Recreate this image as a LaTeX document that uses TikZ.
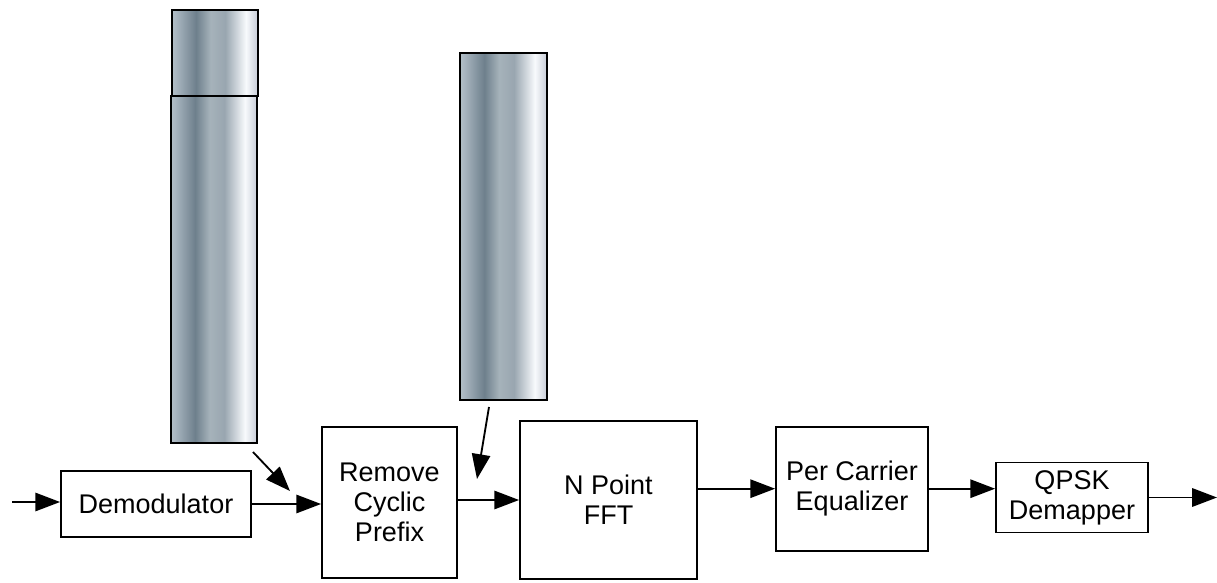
\documentclass[tikz,border=0pt]{standalone}
\usepackage{fontspec}
\setmainfont{Liberation Sans}
\usetikzlibrary{arrows.meta}

% metallic look of the buffer bars (path box spans 25bp..75bp)
\pgfdeclarehorizontalshading{steelbar}{100bp}{rgb(0bp)=(0.70,0.75,0.78); rgb(25bp)=(0.70,0.75,0.78); rgb(27.5bp)=(0.66,0.71,0.75); rgb(39bp)=(0.43,0.50,0.55); rgb(47.5bp)=(0.65,0.70,0.73); rgb(56bp)=(0.60,0.65,0.69); rgb(68bp)=(0.97,0.98,0.99); rgb(75bp)=(0.78,0.80,0.84); rgb(100bp)=(0.78,0.80,0.84)}

\tikzset{
    block/.style={draw,line width=1.3pt,align=center,inner sep=0pt,
        font=\fontsize{19.2}{21.3}\selectfont},
    bar/.style={draw,line width=1.5pt,shading=steelbar},
    flow/.style={line width=1.3pt,-{Triangle[length=0.62cm,width=0.46cm]}}
}

\begin{document}
\begin{tikzpicture}[x=0.025cm,y=-0.025cm]
    \useasboundingbox (0,0) rectangle (1217,583);

    % buffers
    \draw[bar] (172,10) rectangle (258,96);
    \draw[bar] (171,96) rectangle (257,443);
    \draw[bar] (460,53) rectangle (547,400);

    % receiver chain
    \node[block,minimum width=190*0.025cm,minimum height=66*0.025cm] (demod) at (156,504) {Demodulator};
    \node[block,minimum width=135*0.025cm,minimum height=151*0.025cm] (remcp) at (389.5,502.5) {Remove\\Cyclic\\Prefix};
    \node[block,minimum width=177*0.025cm,minimum height=158*0.025cm] (fft) at (608.5,500) {N Point\\FFT};
    \node[block,minimum width=152*0.025cm,minimum height=124*0.025cm] (eq) at (852,488.7) {Per Carrier\\Equalizer};
    \node[block,minimum width=152*0.025cm,minimum height=70*0.025cm] (qpsk) at (1072,497.5) {QPSK\\Demapper};

    \coordinate (in) at (12,502);
    \coordinate (out) at (1217,497.5);
    \coordinate (cpfrom) at (253,452);
    \coordinate (cpto) at (290,491);
    \coordinate (fftfrom) at (489,407);
    \coordinate (fftto) at (477,479);

    \draw[flow] (in) -- (in -| demod.west);
    \draw[flow] (demod.east) -- (demod.east -| remcp.west);
    \draw[flow] (fft.west -| remcp.east) -- (fft.west);
    \draw[flow] (eq.west -| fft.east) -- (eq.west);
    \draw[flow] (eq.east) -- (eq.east -| qpsk.west);
    \draw[flow] (qpsk.east) -- (out);
    \draw[flow] (cpfrom) -- (cpto);
    \draw[flow] (fftfrom) -- (fftto);
\end{tikzpicture}
\end{document}
